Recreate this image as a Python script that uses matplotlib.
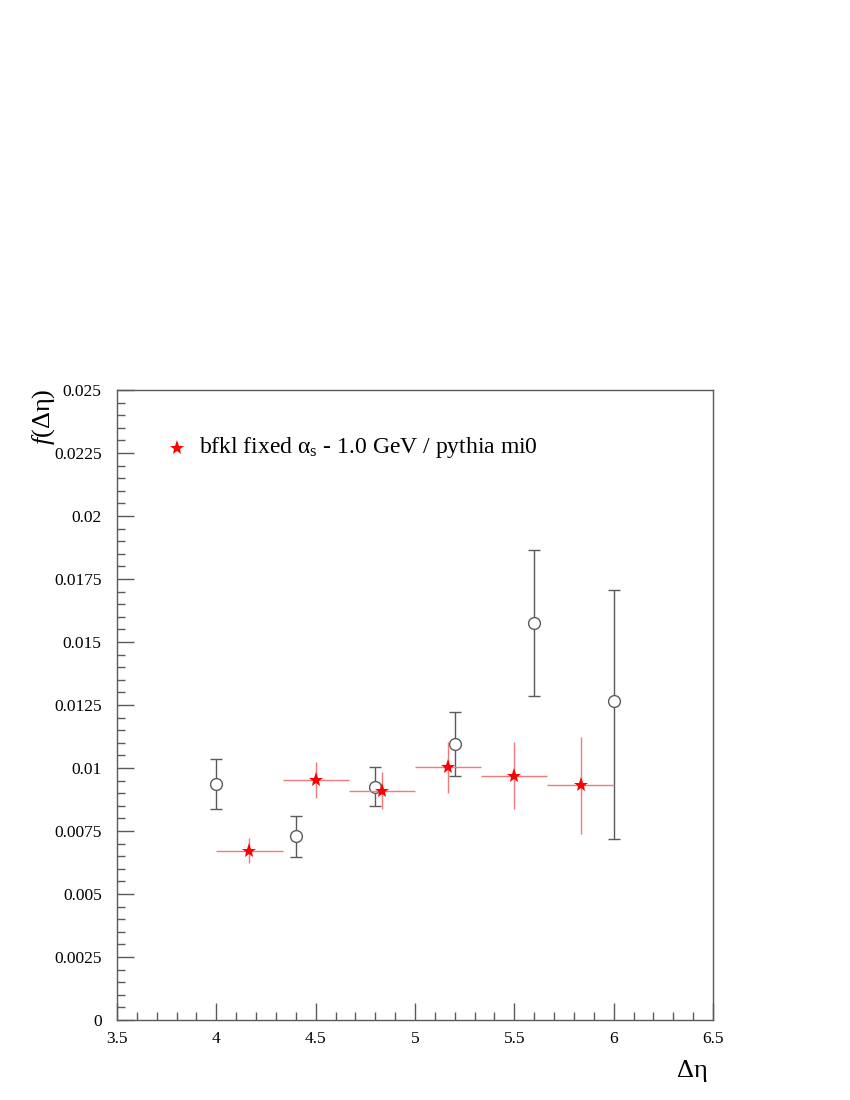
import numpy as np
import matplotlib.pyplot as plt
from matplotlib.ticker import MultipleLocator, FuncFormatter

plt.rcParams['font.family'] = ['Liberation Serif', 'DejaVu Serif']
plt.rcParams['mathtext.fontset'] = 'custom'
plt.rcParams['mathtext.rm'] = 'Liberation Serif'
plt.rcParams['mathtext.it'] = 'Liberation Serif:italic'

# pythia points (open circles)
py_x = [4.0, 4.4, 4.8, 5.2, 5.6, 6.0]
py_y = [0.00937, 0.0073, 0.00925, 0.01095, 0.01577, 0.01267]
py_lo = [0.00837, 0.00647, 0.00849, 0.00968, 0.01286, 0.00718]
py_hi = [0.01036, 0.0081, 0.01004, 0.01222, 0.01865, 0.01706]

# bfkl points (red stars), bins of width 1/3
bf_lo_edge = [4.0, 4.3333, 4.6667, 5.0, 5.3333, 5.6667]
bf_hi_edge = [4.3333, 4.6667, 5.0, 5.3333, 5.6667, 6.0]
bf_y = [0.00671, 0.00952, 0.0091, 0.01003, 0.0097, 0.00931]
bf_lo = [0.00623, 0.00881, 0.00837, 0.00901, 0.00837, 0.00738]
bf_hi = [0.00722, 0.01024, 0.00984, 0.01104, 0.01103, 0.01124]

fig = plt.figure(figsize=(8.5, 11), dpi=100)
ax = fig.add_axes([0.1376, 0.0727, 0.7012, 0.5728])

gray = '#5a5a5a'
py_y = np.array(py_y)
yerr_py = [py_y - np.array(py_lo), np.array(py_hi) - py_y]
ax.errorbar(py_x, py_y, yerr=yerr_py, fmt='o', mfc='white', mec=gray,
            ms=8.5, mew=1.0, ecolor=gray, elinewidth=1.0, capsize=4,
            capthick=1.0, zorder=2)

lo_e = np.array(bf_lo_edge)
hi_e = np.array(bf_hi_edge)
bf_x = (lo_e + hi_e) / 2
bf_y = np.array(bf_y)
xerr_bf = [bf_x - lo_e, hi_e - bf_x]
yerr_bf = [bf_y - np.array(bf_lo), np.array(bf_hi) - bf_y]
ax.errorbar(bf_x, bf_y, xerr=xerr_bf, yerr=yerr_bf, fmt='none',
            ecolor='#f27a7a', elinewidth=1.0, zorder=3)
ax.plot(bf_x, bf_y, '*', color='red', ms=11, mew=0, zorder=4)

ax.set_xlim(3.5, 6.5)
ax.set_ylim(0, 0.025)
ax.xaxis.set_major_locator(MultipleLocator(0.5))
ax.xaxis.set_minor_locator(MultipleLocator(0.1))
ax.yaxis.set_major_locator(MultipleLocator(0.0025))
ax.yaxis.set_minor_locator(MultipleLocator(0.0005))


def fmt(v, pos):
    s = ('%.4f' % v).rstrip('0').rstrip('.')
    return s


ax.xaxis.set_major_formatter(FuncFormatter(fmt))
ax.yaxis.set_major_formatter(FuncFormatter(fmt))
ax.tick_params(which='both', direction='in', top=False, right=False,
               colors=gray, labelcolor='black', labelsize=12.5)
ax.tick_params(which='major', length=12, width=1.0)
ax.tick_params(which='minor', length=6, width=1.0)
ax.tick_params(axis='x', which='major', pad=8)
ax.tick_params(axis='y', which='major', pad=11)
for sp in ax.spines.values():
    sp.set_color(gray)
    sp.set_linewidth(1.0)

# legend
ax.plot([3.8], [0.0227], '*', color='red', ms=11, mew=0, clip_on=False)
ax.text(3.915, 0.0227, r'bfkl fixed $\mathrm{α}_{\mathrm{s}}$ - 1.0 GeV / pythia mi0',
        fontsize=17, va='center', ha='left')

fig.text(692 / 850, 1 - 1071 / 1100, 'Δη', fontsize=19, ha='center', va='center')
fig.text(44 / 850, 1 - 417 / 1100, r'$\mathit{f}\mathrm{(Δη)}$', fontsize=19,
         rotation=90, ha='center', va='center')

fig.savefig('out.png', dpi=100)
